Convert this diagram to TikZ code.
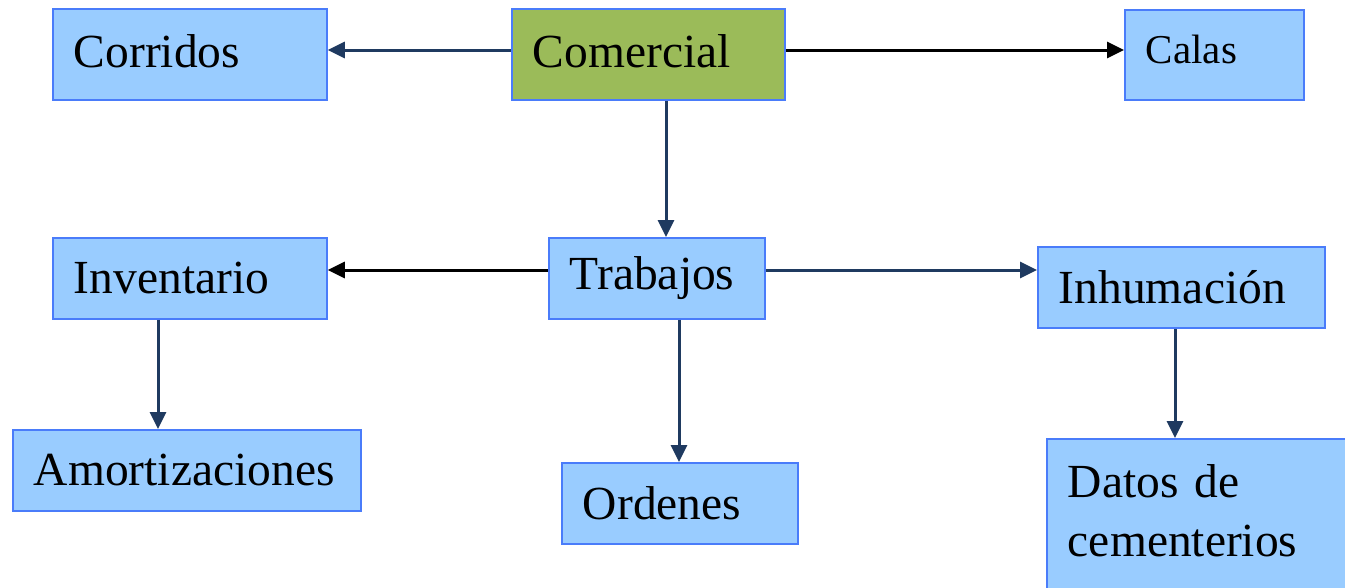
\documentclass[tikz,border=0pt]{standalone}
\usepackage{fontspec}
\setmainfont{Liberation Serif}
\usetikzlibrary{arrows.meta}
\definecolor{boxblue}{HTML}{99CCFF}
\definecolor{edgeblue}{HTML}{4A7CFA}
\definecolor{boxgreen}{HTML}{9BBB59}
\definecolor{navy}{HTML}{1F3A60}
\tikzset{
  box/.style={draw=edgeblue, line width=1.8pt, fill=boxblue, rectangle, anchor=north west,
    inner xsep=21pt, inner ysep=0pt, align=left, font=\fontsize{47.5}{59}\selectfont},
  arr/.style={draw=navy, line width=3pt, -{Triangle[length=17pt,width=16pt]}},
  arrk/.style={draw=black, line width=3pt, -{Triangle[length=17pt,width=16pt]}}
}
\begin{document}
\begin{tikzpicture}[x=1pt,y=-1pt]
\useasboundingbox (0,0) rectangle (1345,587);
\clip (0,0) rectangle (1345,587);
\node[box, minimum height=91pt, text width=232pt, text height=35pt, text depth=8pt] (cor) at (52,8) {Corridos};
\node[box, fill=boxgreen, minimum height=91pt, text width=231pt, text height=35pt, text depth=8pt] (com) at (511,8) {Comercial};
\node[box, minimum height=90pt, text width=137pt, text height=30pt, text depth=12pt, font=\fontsize{41}{48}\selectfont] (cal) at (1124,9) {Calas};
\node[box, minimum height=81pt, text width=232pt] (inv) at (52,237) {Inventario};
\node[box, minimum height=81pt, text width=174pt] (tra) at (548,237) {Trabajos};
\node[box, minimum height=81pt, text width=245pt] (inh) at (1037,246) {Inhumación};
\node[box, minimum height=81pt, text width=306pt] (amo) at (12,429) {Amortizaciones};
\node[box, minimum height=81pt, text width=194pt] (ord) at (561,462) {Ordenes};
\node[box, minimum height=154pt, text width=268pt, text height=35pt, text depth=71pt] (dat) at (1046,438) {Datos de\\cementerios};
\draw[arr] (com.west |- 0,50) -- (cor.east |- 0,50);
\draw[arrk] (com.east |- 0,50) -- (cal.west |- 0,50);
\draw[arr] (com.south -| 666,0) -- (tra.north -| 666,0);
\draw[arrk] (tra.west |- 0,270) -- (inv.east |- 0,270);
\draw[arr] (tra.east |- 0,270) -- (inh.west |- 0,270);
\draw[arr] (inv.south -| 158,0) -- (amo.north -| 158,0);
\draw[arr] (tra.south -| 679,0) -- (ord.north -| 679,0);
\draw[arr] (inh.south -| 1175,0) -- (dat.north -| 1175,0);
\end{tikzpicture}
\end{document}
